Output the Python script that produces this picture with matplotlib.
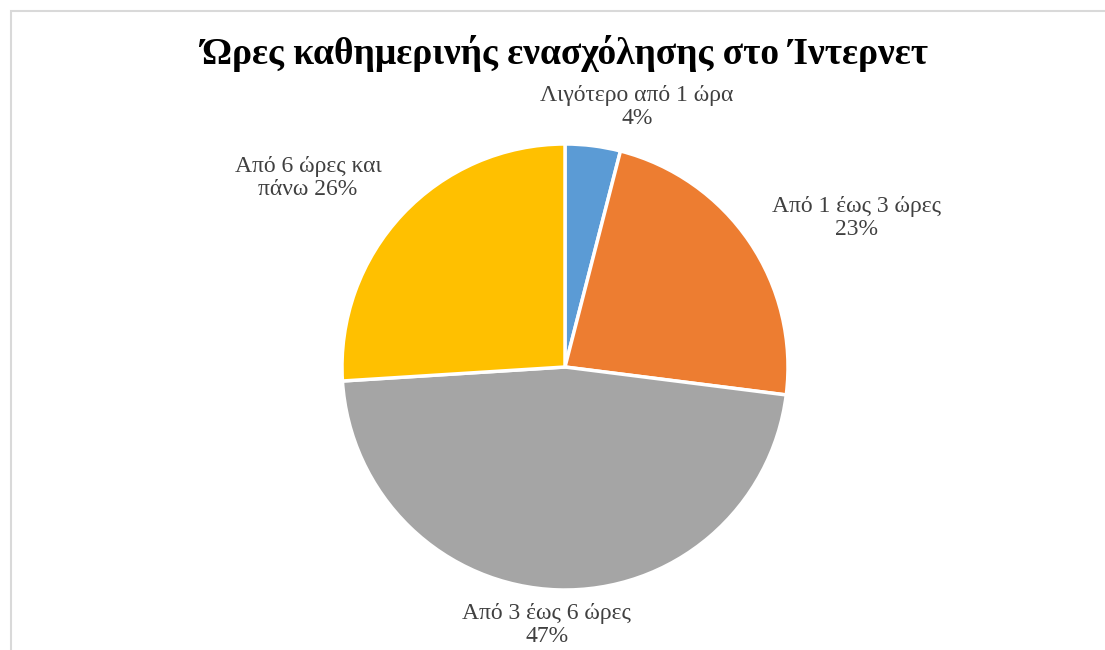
import matplotlib.pyplot as plt
from matplotlib.patches import Rectangle
import numpy as np

plt.rcParams['font.family'] = ['Liberation Serif', 'DejaVu Serif']

categories = ["Λιγότερο από 1 ώρα", "Από 1 έως 3 ώρες", "Από 3 έως 6 ώρες", "Από 6 ώρες και\nπάνω"]
shares = [4, 23, 47, 26]
colors = ["#5B9BD5", "#ED7D31", "#A5A5A5", "#FFC000"]

# label text and where it sits (data coords, pie radius = 1)
label_texts = [f"{c}\n{s}%" if "\n" not in c else f"{c} {s}%" for c, s in zip(categories, shares)]
label_xy = [(0.323, 1.166), (1.305, 0.668), (-0.081, -1.157), (-1.152, 0.848)]

W, H = 1105, 650
fig = plt.figure(figsize=(W / 100, H / 100), dpi=100)

cx, cy, r = 565, 367, 223
ax = fig.add_axes([(cx - r) / W, (H - cy - r) / H, 2 * r / W, 2 * r / H])
ax.pie(shares, colors=colors, startangle=90, counterclock=False, radius=1,
       wedgeprops=dict(edgecolor="white", linewidth=2.5))
ax.set_xlim(-1, 1)
ax.set_ylim(-1, 1)
ax.set_aspect("equal")
ax.axis("off")

for (x, y), t in zip(label_xy, label_texts):
    ax.text(x, y, t, ha="center", va="center", fontsize=17, color="#404040",
            linespacing=1.1, clip_on=False)

fig.text(565 / W, 1 - 54 / H, "Ώρες καθημερινής ενασχόλησης στο Ίντερνετ",
         ha="center", va="center", fontsize=27, fontweight="bold", color="black")

# chart area border
fig.patches.append(Rectangle((11 / W, -0.1), 1.2, 1 - 11 / H + 0.1, transform=fig.transFigure,
                             fill=False, edgecolor="#D9D9D9", linewidth=1.5))

fig.savefig("out.png", dpi=100)
